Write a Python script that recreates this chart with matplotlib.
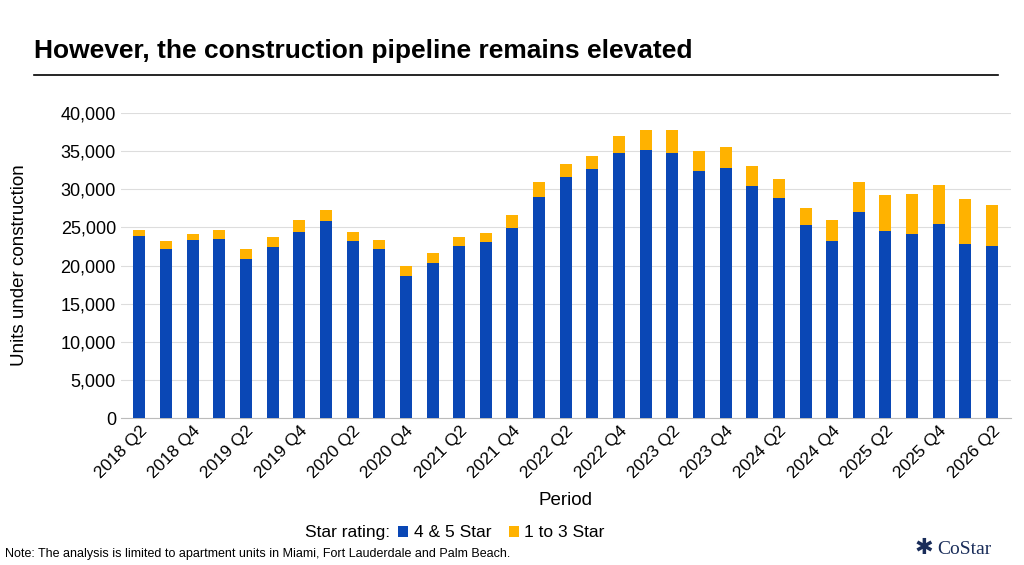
import matplotlib.pyplot as plt
import numpy as np
from matplotlib.offsetbox import HPacker

periods = []
for y in range(2018, 2027):
    for q in range(1, 5):
        periods.append(f"{y} Q{q}")
periods = periods[1:34]

four_five = [23.9, 22.2, 23.3, 23.5, 20.8, 22.4, 24.4, 25.9, 23.2, 22.2, 18.6,
             20.3, 22.5, 23.1, 24.9, 29.0, 31.6, 32.6, 34.8, 35.2, 34.8, 32.4,
             32.8, 30.4, 28.8, 25.3, 23.2, 27.0, 24.5, 24.1, 25.4, 22.8, 22.5]
totals = [24.7, 23.2, 24.2, 24.7, 22.2, 23.8, 26.0, 27.3, 24.4, 23.4, 19.9,
          21.6, 23.8, 24.3, 26.6, 31.0, 33.3, 34.3, 37.0, 37.8, 37.8, 35.0,
          35.6, 33.0, 31.3, 27.6, 26.0, 30.9, 29.3, 29.4, 30.5, 28.7, 28.0]
four_five = np.array(four_five) * 1000
one_three = np.array(totals) * 1000 - four_five

plt.rcParams['font.family'] = ['Liberation Sans', 'DejaVu Sans']
fig = plt.figure(figsize=(10.24, 5.65), dpi=100)
ax = fig.add_axes([0.118, 0.26, 0.869, 0.54])

x = np.arange(len(periods))
ax.bar(x, four_five, width=0.45, color='#0a47b5', label='4 & 5 Star', zorder=3)
ax.bar(x, one_three, width=0.45, bottom=four_five, color='#ffb200', label='1 to 3 Star', zorder=3)

ax.set_ylim(0, 40000)
ax.set_yticks(range(0, 40001, 5000))
ax.set_yticklabels([f"{v:,}" for v in range(0, 40001, 5000)], fontsize=13)
ax.grid(axis='y', color='#dddddd', lw=0.8, zorder=0)
ax.set_xlim(-0.7, len(periods) - 0.3)
ax.set_xticks(x[::2])
ax.set_xticklabels(periods[::2], rotation=45, ha='right', rotation_mode='anchor', fontsize=12.5)
ax.tick_params(axis='both', length=0)
for s in ['top', 'right', 'left']:
    ax.spines[s].set_visible(False)
ax.spines['bottom'].set_color('#bbbbbb')
ax.set_ylabel('Units under construction', fontsize=13.5)
ax.yaxis.set_label_coords(-0.104, 0.5)
ax.set_xlabel('Period', fontsize=13.5, labelpad=8)

leg = ax.legend(loc='upper center', bbox_to_anchor=(0.375, -0.30), ncol=3, frameon=False,
                fontsize=12.5, handlelength=0.6, handleheight=0.6, handletextpad=0.3,
                columnspacing=1.0, title='Star rating:', title_fontsize=12.5)
# put title inline with the entries
box = leg._legend_box
box.__class__ = HPacker
box.sep = 6
box.align = 'center'

fig.text(0.033, 0.91, 'However, the construction pipeline remains elevated',
         fontsize=19, fontweight='bold', va='center')
fig.add_artist(plt.Line2D([0.033, 0.975], [0.868, 0.868], color='black', lw=1.2))
fig.text(0.005, 0.015, 'Note: The analysis is limited to apartment units in Miami, Fort Lauderdale and Palm Beach.',
         fontsize=9)
fig.text(0.915, 0.02, 'CoStar', fontsize=14, family='Liberation Serif', color='#1a2d5a')
fig.text(0.893, 0.02, '✱', fontsize=16, color='#1a2d5a', family='DejaVu Sans')

fig.savefig('out.png', dpi=100)
